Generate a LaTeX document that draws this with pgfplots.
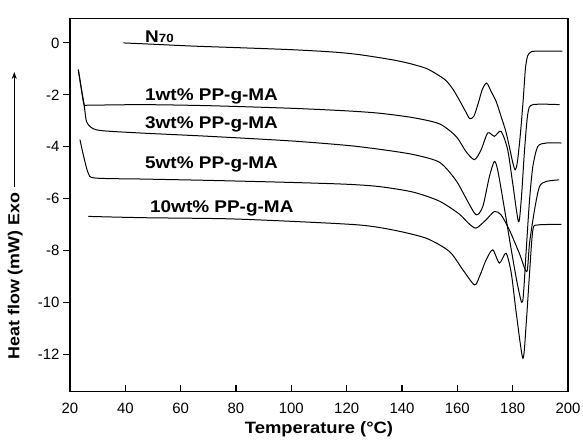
\documentclass[border=0pt]{standalone}
\usepackage{fontspec}
\setmainfont{Liberation Sans}
\newfontfamily\lblfont[FakeStretch=1.12]{Liberation Sans}
\usepackage{pgfplots}
\pgfplotsset{compat=1.18}
\usetikzlibrary{arrows.meta}

\begin{document}
\begin{tikzpicture}
\useasboundingbox (-70bp,-51.3bp) rectangle (513bp,391.7bp);
\begin{axis}[
  at={(0,0)}, anchor=south west,
  scale only axis, width=498bp, height=373.4bp,
  xmin=20, xmax=200, ymin=-13.45, ymax=0.95,
  xtick={20,40,...,200}, ytick={-12,-10,...,0},
  xtick pos=bottom, ytick pos=left,
  xtick align=inside, ytick align=outside,
  major tick length=7bp,
  axis line style={line width=1.3bp},
  tick style={line width=1.1bp, black},
  tick label style={font=\fontsize{15}{15}\selectfont},
  xticklabel style={yshift=-8bp},
  /pgf/number format/assume math mode=true,
  xlabel={\lblfont\bfseries Temperature (°C)},
  xlabel style={font=\fontsize{16.5}{16.5}\selectfont, yshift=-1bp},
  ylabel={\lblfont\bfseries Heat flow (mW) Exo\,\,\tikz[baseline=-0.6ex]\draw[line width=1.1bp,-{Stealth[length=7bp,width=5bp]}] (0,0) -- (115bp,0);},
  every axis y label/.style={at={(axis description cs:-0.11,0.077)}, rotate=90, anchor=west, font=\fontsize{16}{16}\selectfont},
  clip=false,
]
% N70
\addplot[black, line width=1bp, smooth, tension=0.45] coordinates {(39.3,0.0)(50,-0.05)(64,-0.12)(80,-0.18)(100,-0.26)(115,-0.35)(124.5,-0.45)(136.5,-0.65)(143,-0.8)(148.7,-0.98)(152.5,-1.2)(155.9,-1.45)(158.5,-1.8)(160.7,-2.2)(163,-2.65)(164.5,-2.92)(166,-2.82)(167.5,-2.35)(169,-1.8)(170.6,-1.55)(172.2,-1.87)(174,-2.25)(175.8,-2.83)(177.5,-3.4)(178.8,-4.0)(180,-4.6)(180.9,-4.89)(181.7,-4.6)(182.8,-3.5)(183.8,-2.2)(184.6,-1.0)(185.4,-0.5)(186.5,-0.36)(188,-0.32)(198,-0.32)};
% 1 wt%
\addplot[black, line width=1bp, smooth, tension=0.45] coordinates {(23,-1.03)(24,-1.7)(25.1,-2.38)(27,-2.40)(46.6,-2.38)(70,-2.42)(100,-2.52)(120,-2.62)(131.8,-2.71)(143.9,-2.88)(153.5,-3.12)(159.5,-3.6)(163.2,-4.2)(166.2,-4.5)(168.6,-4.12)(171,-3.47)(173.4,-3.6)(175.8,-3.41)(178.2,-4.12)(180,-5.4)(182.1,-6.89)(183.1,-6.05)(184.3,-4.12)(185.5,-2.71)(187.3,-2.38)(197,-2.38)};
% 3 wt%
\addplot[black, line width=1bp, smooth, tension=0.45] coordinates {(23,-1.03)(24,-1.7)(25.1,-2.38)(25.8,-2.96)(26.6,-3.15)(28.4,-3.31)(32.1,-3.39)(46.6,-3.48)(70,-3.6)(100,-3.78)(120,-3.95)(131.8,-4.1)(143.9,-4.3)(153.5,-4.6)(159.5,-5.3)(163.7,-6.1)(166.8,-6.63)(169.2,-6.31)(171.6,-5.15)(173.4,-4.57)(174.7,-4.96)(177.1,-6.44)(179.5,-7.98)(181.9,-9.4)(183.6,-9.98)(184.9,-7.98)(186.1,-6.05)(187.3,-4.76)(189.1,-3.99)(192.2,-3.86)(197.6,-3.86)};
% 5 wt%
\addplot[black, line width=1bp, smooth, tension=0.45] coordinates {(23.6,-3.73)(24.8,-4.31)(26.6,-5.02)(29.1,-5.21)(46.6,-5.25)(70,-5.3)(100,-5.38)(120,-5.45)(131.8,-5.54)(143.9,-5.75)(153.5,-6.1)(160.7,-6.6)(164,-6.95)(166.8,-7.14)(170.4,-6.82)(173.4,-6.5)(175.8,-6.63)(178.8,-7.21)(182.4,-8.11)(185.1,-8.82)(186.1,-7.72)(187.9,-6.44)(189.7,-5.54)(192.2,-5.34)(196.8,-5.28)};
% 10 wt%
\addplot[black, line width=1bp, smooth, tension=0.45] coordinates {(26.6,-6.69)(46.6,-6.74)(76.2,-6.78)(100,-6.88)(124.5,-7.02)(136.6,-7.21)(148.7,-7.53)(157.1,-8.04)(162,-8.75)(166.2,-9.33)(168,-9.01)(170.4,-8.37)(172.8,-7.98)(175.2,-8.49)(177.6,-8.11)(179.5,-8.88)(181.3,-10.42)(183.7,-12.16)(184.9,-10.81)(186.1,-8.88)(187.3,-7.21)(189.1,-7.02)(197.6,-7.0)};

\begin{scope}[every node/.style={anchor=west, font=\fontsize{17}{17}\selectfont\lblfont\bfseries, inner sep=0pt}]
\node at (axis cs:47.1,0.24) {N{\fontsize{12}{12}\selectfont 70}};
\node at (axis cs:47.1,-2.06) {1wt\% PP-g-MA};
\node at (axis cs:47.1,-3.15) {3wt\% PP-g-MA};
\node at (axis cs:47.1,-4.7) {5wt\% PP-g-MA};
\node at (axis cs:48.9,-6.37) {10wt\% PP-g-MA};
\end{scope}
\end{axis}
\end{tikzpicture}
\end{document}
